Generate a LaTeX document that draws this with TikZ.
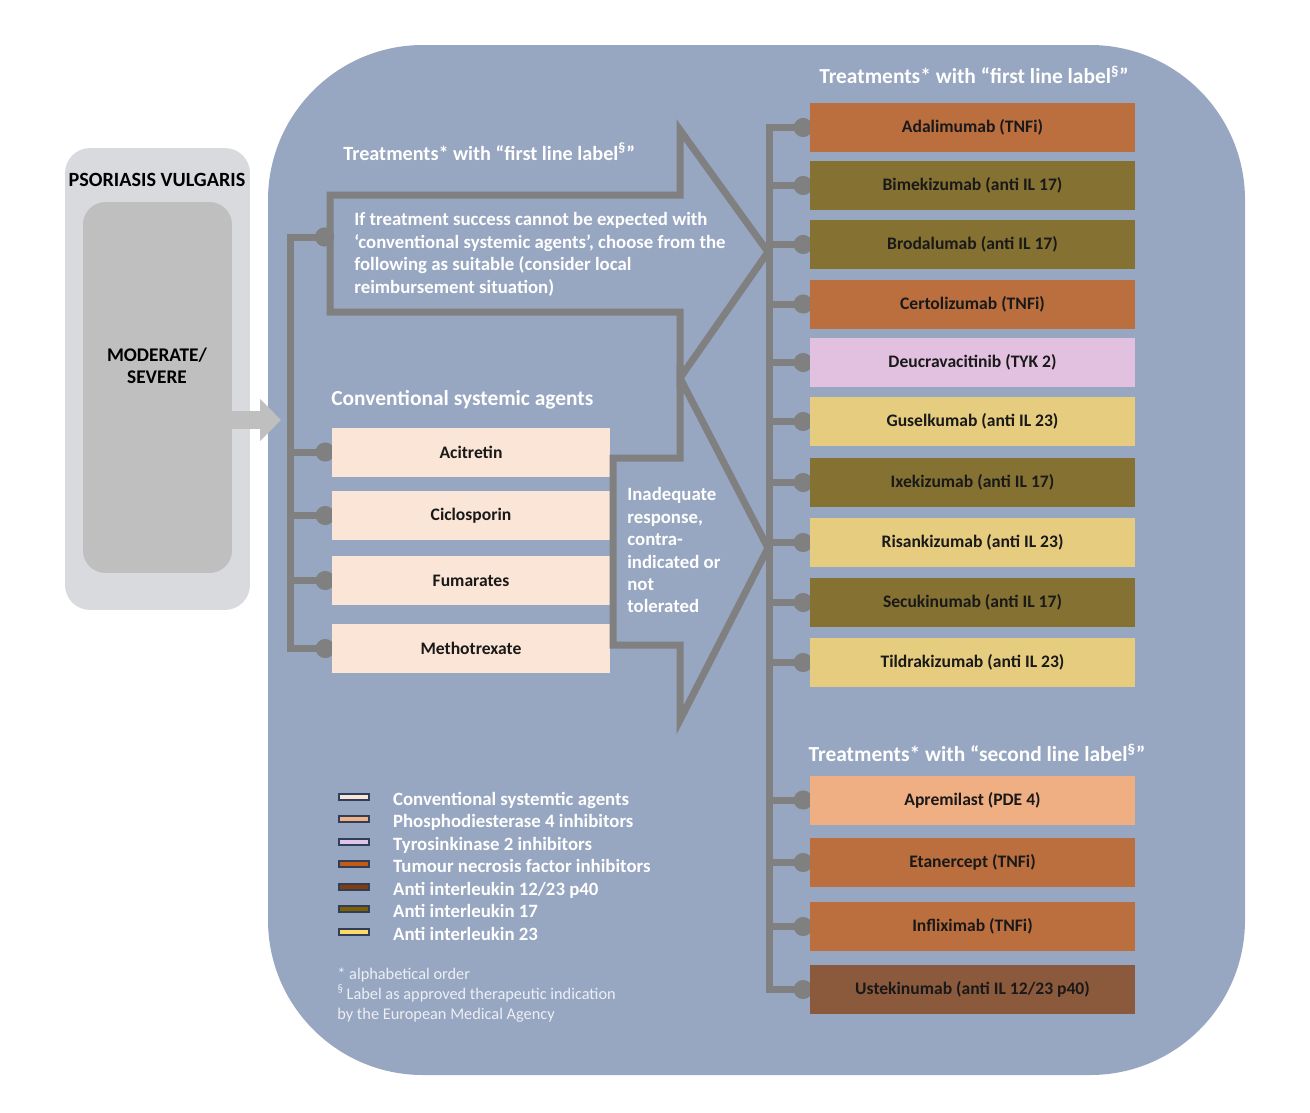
\documentclass[tikz,border=0pt]{standalone}
\usepackage{fontspec}
\setmainfont{Carlito}
\usepackage{tikz}
\definecolor{panelblue}{RGB}{151,166,193}
\definecolor{linegray}{RGB}{128,128,128}
\definecolor{psolight}{RGB}{216,218,221}
\definecolor{psomid}{RGB}{191,191,191}
\definecolor{convcol}{RGB}{251,229,214}
\definecolor{tnfcol}{RGB}{187,110,62}
\definecolor{ilseventeen}{RGB}{133,114,50}
\definecolor{tykcol}{RGB}{226,193,224}
\definecolor{iltwentythree}{RGB}{229,204,126}
\definecolor{pdecol}{RGB}{240,175,130}
\definecolor{ustecol}{RGB}{139,89,60}
\definecolor{legpde}{RGB}{244,177,131}
\definecolor{legtyk}{RGB}{224,198,230}
\definecolor{legtnf}{RGB}{197,90,17}
\definecolor{legforty}{RGB}{132,60,12}
\definecolor{legseventeen}{RGB}{127,96,0}
\definecolor{legtwentythree}{RGB}{255,217,102}
\definecolor{legedge}{RGB}{47,62,90}
\definecolor{notewhite}{RGB}{236,239,245}
\usetikzlibrary{arrows.meta, positioning, calc}
\pgfdeclarelayer{bg}
\pgfdeclarelayer{lines}
\pgfsetlayers{bg,lines,main}
\tikzset{
    pvouter/.style={fill=psolight, rounded corners=0.5cm},
    pvinner/.style={fill=psomid, rounded corners=0.45cm},
    pvlabel/.style={font=\bfseries\fontsize{11}{12.5}\selectfont, text=black},
    pvarrow/.style={draw=psomid, line width=0.36cm, -{Triangle[length=0.42cm, width=0.82cm]}},
    pvblock/.style={draw=linegray, line width=0.14cm},
    pvspine/.style={draw=linegray, line width=0.14cm, line cap=rect},
    pvbranch/.style={draw=linegray, line width=0.14cm, -{Circle[length=0.38cm]}, shorten >=-0.06cm},
    pvdrug/.style={rectangle, minimum width=6.5cm, minimum height=0.98cm, inner sep=0pt, text=black!90},
    pvconv/.style={rectangle, fill=convcol, minimum width=5.56cm, minimum height=0.98cm, inner sep=0pt, text=black!90},
    pvhead/.style={font=\bfseries\fontsize{12.2}{14}\selectfont, text=white, inner sep=0pt},
    pvtext/.style={font=\bfseries\fontsize{10.7}{12.8}\selectfont, text=white, inner sep=0pt, align=left},
    pvswatch/.style={draw=legedge, line width=0.9pt, minimum width=0.6cm, minimum height=0.12cm, inner sep=0pt},
    pvlegend/.style={font=\bfseries\fontsize{10.7}{12}\selectfont, text=white, inner sep=0pt, text height=1.6ex, text depth=0.45ex},
    pvnote/.style={font=\fontsize{9.3}{11.2}\selectfont, text=notewhite, inner sep=0pt, align=left}
}
\newcommand{\secmark}{\textsuperscript{\S}}

\begin{document}
\begin{tikzpicture}[x=0.02cm, y=-0.02cm, every node/.style={font=\bfseries\fontsize{10}{12}\selectfont}]
  \useasboundingbox (0,0) rectangle (1310,1112);

  % blue panel
  \begin{pgfonlayer}{bg}
    \fill[panelblue, rounded corners=3.1cm] (268,45) rectangle (1245,1075);
  \end{pgfonlayer}

  % psoriasis box
  \node[pvouter, minimum width=3.7cm, minimum height=9.24cm] (pso) at (157.5,379) {};
  \node[pvinner, minimum width=2.98cm, minimum height=7.42cm] (sev) at (157.5,387.5) {};
  \node[pvlabel, font=\bfseries\fontsize{11.5}{12.5}\selectfont] (psolabel) at (157,180) {PSORIASIS VULGARIS};
  \node[pvlabel, align=center] (sevlabel) at (157,366) {MODERATE/\\SEVERE};
  \coordinate (psotip) at (281,420);
  \draw[pvarrow] (sev.east |- psotip) -- (psotip);

  % conventional systemic agents
  \node[pvhead, anchor=west] (convhead) at (331,400) {Conventional systemic agents};
  \node[pvconv] (acit) at (471,452) {Acitretin};
  \node[pvconv] (cicl) at (471,515.5) {Ciclosporin};
  \node[pvconv] (fuma) at (471,580.5) {Fumarates};
  \node[pvconv] (meth) at (471,648.5) {Methotrexate};

  % block arrows
  \draw[pvblock] (330,195) -- (680,195) -- (680,130) -- (768,252) -- (680,378)
    -- (680,312) -- (330,312) -- cycle;
  \draw[pvblock] (613,458) -- (680,458) -- (680,378) -- (768,548) -- (680,720)
    -- (680,645) -- (613,645) -- cycle;
  \node[pvhead, font=\bfseries\fontsize{11.5}{14}\selectfont, anchor=west] (flhead) at (343,152) {Treatments* with “first line label\secmark”};
  \node[pvtext, anchor=north west] (flnote) at (354,212)
    {If treatment success cannot be expected with\\
     ‘conventional systemic agents’, choose from the\\
     following as suitable (consider local\\
     reimbursement situation)};
  \node[pvtext, anchor=north west] (inadeq) at (627,487)
    {Inadequate\\response,\\contra-\\indicated or\\not\\tolerated};

  % left spine
  \coordinate (lspine) at (290,0);
  \coordinate (arrin) at (331,237);
  \begin{pgfonlayer}{lines}
    \draw[pvspine] (lspine |- arrin) -- (lspine |- meth.west);
    \draw[pvbranch] (lspine |- arrin) -- (arrin);
    \draw[pvbranch] (lspine |- acit.west) -- (acit.west);
    \draw[pvbranch] (lspine |- cicl.west) -- (cicl.west);
    \draw[pvbranch] (lspine |- fuma.west) -- (fuma.west);
    \draw[pvbranch] (lspine |- meth.west) -- (meth.west);
  \end{pgfonlayer}

  % first line label
  \node[pvhead] (firsthead) at (974,75) {Treatments* with “first line label\secmark”};
  \node[pvdrug, fill=tnfcol] (adal) at (972.5,127.5) {Adalimumab (TNFi)};
  \node[pvdrug, fill=ilseventeen] (bime) at (972.5,185.5) {Bimekizumab (anti IL 17)};
  \node[pvdrug, fill=ilseventeen] (brod) at (972.5,244.5) {Brodalumab (anti IL 17)};
  \node[pvdrug, fill=tnfcol] (cert) at (972.5,304) {Certolizumab (TNFi)};
  \node[pvdrug, fill=tykcol] (deuc) at (972.5,362.5) {Deucravacitinib (TYK 2)};
  \node[pvdrug, fill=iltwentythree] (guse) at (972.5,421.5) {Guselkumab (anti IL 23)};
  \node[pvdrug, fill=ilseventeen] (ixek) at (972.5,482.5) {Ixekizumab (anti IL 17)};
  \node[pvdrug, fill=iltwentythree] (risa) at (972.5,542.5) {Risankizumab (anti IL 23)};
  \node[pvdrug, fill=ilseventeen] (secu) at (972.5,602.5) {Secukinumab (anti IL 17)};
  \node[pvdrug, fill=iltwentythree] (tild) at (972.5,662.5) {Tildrakizumab (anti IL 23)};

  % second line label
  \node[pvhead] (secondhead) at (977,753) {Treatments* with “second line label\secmark”};
  \node[pvdrug, fill=pdecol] (apre) at (972.5,800) {Apremilast (PDE 4)};
  \node[pvdrug, fill=tnfcol] (etan) at (972.5,862.5) {Etanercept (TNFi)};
  \node[pvdrug, fill=tnfcol] (infl) at (972.5,926.5) {Infliximab (TNFi)};
  \node[pvdrug, fill=ustecol] (uste) at (972.5,989.5) {Ustekinumab (anti IL 12/23 p40)};

  % right spine
  \coordinate (rspine) at (769,0);
  \begin{pgfonlayer}{lines}
    \draw[pvspine] (rspine |- adal.west) -- (rspine |- uste.west);
    \draw[pvbranch] (rspine |- adal.west) -- (adal.west);
    \draw[pvbranch] (rspine |- bime.west) -- (bime.west);
    \draw[pvbranch] (rspine |- brod.west) -- (brod.west);
    \draw[pvbranch] (rspine |- cert.west) -- (cert.west);
    \draw[pvbranch] (rspine |- deuc.west) -- (deuc.west);
    \draw[pvbranch] (rspine |- guse.west) -- (guse.west);
    \draw[pvbranch] (rspine |- ixek.west) -- (ixek.west);
    \draw[pvbranch] (rspine |- risa.west) -- (risa.west);
    \draw[pvbranch] (rspine |- secu.west) -- (secu.west);
    \draw[pvbranch] (rspine |- tild.west) -- (tild.west);
    \draw[pvbranch] (rspine |- apre.west) -- (apre.west);
    \draw[pvbranch] (rspine |- etan.west) -- (etan.west);
    \draw[pvbranch] (rspine |- infl.west) -- (infl.west);
    \draw[pvbranch] (rspine |- uste.west) -- (uste.west);
  \end{pgfonlayer}

  % legend
  \node[pvswatch, fill=convcol] (swconv) at (354,797) {};
  \node[pvswatch, fill=legpde] (swpde) at (354,819) {};
  \node[pvswatch, fill=legtyk] (swtyk) at (354,842) {};
  \node[pvswatch, fill=legtnf] (swtnf) at (354,864) {};
  \node[pvswatch, fill=legforty] (swforty) at (354,887) {};
  \node[pvswatch, fill=legseventeen] (swseventeen) at (354,909) {};
  \node[pvswatch, fill=legtwentythree] (swtwentythree) at (354,932) {};
  \node[pvlegend, right=0.46cm of swconv, yshift=-0.07cm] (lgconv) {Conventional systemtic agents};
  \node[pvlegend, right=0.46cm of swpde, yshift=-0.07cm] (lgpde) {Phosphodiesterase 4 inhibitors};
  \node[pvlegend, right=0.46cm of swtyk, yshift=-0.07cm] (lgtyk) {Tyrosinkinase 2 inhibitors};
  \node[pvlegend, right=0.46cm of swtnf, yshift=-0.07cm] (lgtnf) {Tumour necrosis factor inhibitors};
  \node[pvlegend, right=0.46cm of swforty, yshift=-0.07cm] (lgforty) {Anti interleukin 12/23 p40};
  \node[pvlegend, right=0.46cm of swseventeen, yshift=-0.07cm] (lgseventeen) {Anti interleukin 17};
  \node[pvlegend, right=0.46cm of swtwentythree, yshift=-0.07cm] (lgtwentythree) {Anti interleukin 23};

  % footnotes
  \node[pvnote, anchor=north west] (notes) at (337,968)
    {* alphabetical order\\
     \secmark\,Label as approved therapeutic indication\\
     by the European Medical Agency};
\end{tikzpicture}
\end{document}
